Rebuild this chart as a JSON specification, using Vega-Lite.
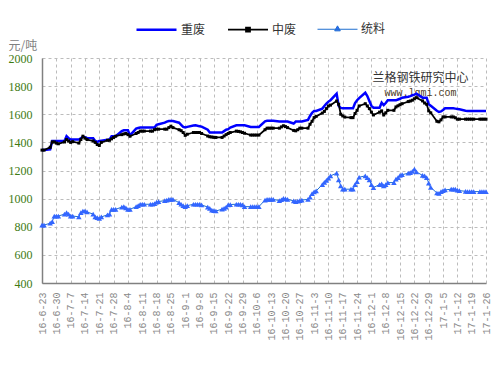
{
  "$schema": "https://vega.github.io/schema/vega-lite/v6.json",
  "width": 444,
  "height": 225,
  "autosize": {"type": "none"},
  "padding": {"left": 42, "top": 58, "right": 13, "bottom": 88},
  "background": "white",
  "config": {"view": {"stroke": null}, "font": "Liberation Sans"},
  "datasets": {
    "prices": [
      {"date":"2016-06-23","重废":1345,"中废":1345,"统料":812},
      {"date":"2016-06-24","重废":1345,"中废":1345,"统料":812},
      {"date":"2016-06-27","重废":1350,"中废":1365,"统料":825},
      {"date":"2016-06-28","重废":1410,"中废":1403,"统料":836},
      {"date":"2016-06-29","重废":1410,"中废":1403,"统料":876},
      {"date":"2016-06-30","重废":1410,"中废":1395,"统料":876},
      {"date":"2016-07-01","重废":1410,"中废":1390,"统料":876},
      {"date":"2016-07-04","重废":1410,"中废":1403,"统料":890},
      {"date":"2016-07-05","重废":1444,"中废":1420,"统料":900},
      {"date":"2016-07-06","重废":1430,"中废":1410,"统料":890},
      {"date":"2016-07-07","重废":1420,"中废":1400,"统料":876},
      {"date":"2016-07-08","重废":1420,"中废":1405,"统料":876},
      {"date":"2016-07-11","重废":1420,"中废":1395,"统料":871},
      {"date":"2016-07-12","重废":1430,"中废":1420,"统料":900},
      {"date":"2016-07-13","重废":1440,"中废":1444,"统料":912},
      {"date":"2016-07-14","重废":1436,"中废":1430,"统料":912},
      {"date":"2016-07-15","重废":1432,"中废":1420,"统料":905},
      {"date":"2016-07-18","重废":1430,"中废":1410,"统料":890},
      {"date":"2016-07-19","重废":1410,"中废":1400,"统料":871},
      {"date":"2016-07-20","重废":1403,"中废":1385,"统料":865},
      {"date":"2016-07-21","重废":1410,"中废":1378,"统料":860},
      {"date":"2016-07-22","重废":1412,"中废":1400,"统料":870},
      {"date":"2016-07-25","重废":1418,"中废":1415,"统料":885},
      {"date":"2016-07-26","重废":1420,"中废":1415,"统料":890},
      {"date":"2016-07-27","重废":1444,"中废":1425,"统料":924},
      {"date":"2016-07-28","重废":1444,"中废":1435,"统料":924},
      {"date":"2016-07-29","重废":1444,"中废":1444,"统料":924},
      {"date":"2016-08-01","重废":1480,"中废":1455,"统料":940},
      {"date":"2016-08-02","重废":1486,"中废":1460,"统料":943},
      {"date":"2016-08-03","重废":1486,"中废":1463,"统料":935},
      {"date":"2016-08-04","重废":1486,"中废":1455,"统料":924},
      {"date":"2016-08-05","重废":1450,"中废":1444,"统料":924},
      {"date":"2016-08-08","重废":1498,"中废":1463,"统料":943},
      {"date":"2016-08-09","重废":1502,"中废":1470,"统料":950},
      {"date":"2016-08-10","重废":1506,"中废":1480,"统料":960},
      {"date":"2016-08-11","重废":1506,"中废":1480,"统料":960},
      {"date":"2016-08-12","重废":1506,"中废":1480,"统料":960},
      {"date":"2016-08-15","重废":1506,"中废":1480,"统料":960},
      {"date":"2016-08-16","重废":1506,"中废":1480,"统料":960},
      {"date":"2016-08-17","重废":1506,"中废":1490,"统料":965},
      {"date":"2016-08-18","重废":1525,"中废":1494,"统料":975},
      {"date":"2016-08-19","重废":1529,"中废":1494,"统料":979},
      {"date":"2016-08-22","重废":1540,"中废":1494,"统料":986},
      {"date":"2016-08-23","重废":1548,"中废":1494,"统料":990},
      {"date":"2016-08-24","重废":1552,"中废":1505,"统料":995},
      {"date":"2016-08-25","重废":1552,"中废":1515,"统料":995},
      {"date":"2016-08-26","重废":1552,"中废":1505,"统料":995},
      {"date":"2016-08-29","重废":1540,"中废":1490,"统料":971},
      {"date":"2016-08-30","重废":1525,"中废":1483,"统料":960},
      {"date":"2016-08-31","重废":1510,"中废":1470,"统料":950},
      {"date":"2016-09-01","重废":1506,"中废":1450,"统料":943},
      {"date":"2016-09-02","重废":1510,"中废":1458,"统料":950},
      {"date":"2016-09-05","重废":1520,"中废":1470,"统料":960},
      {"date":"2016-09-06","重废":1522,"中废":1470,"统料":960},
      {"date":"2016-09-07","重废":1518,"中废":1470,"统料":960},
      {"date":"2016-09-08","重废":1515,"中废":1470,"统料":960},
      {"date":"2016-09-09","重废":1512,"中废":1463,"统料":955},
      {"date":"2016-09-12","重废":1490,"中废":1445,"统料":940},
      {"date":"2016-09-13","重废":1470,"中废":1440,"统料":930},
      {"date":"2016-09-14","重废":1470,"中废":1438,"统料":919},
      {"date":"2016-09-15","重废":1470,"中废":1436,"统料":915},
      {"date":"2016-09-16","重废":1470,"中废":1435,"统料":912},
      {"date":"2016-09-19","重废":1470,"中废":1435,"统料":925},
      {"date":"2016-09-20","重废":1480,"中废":1445,"统料":931},
      {"date":"2016-09-21","重废":1490,"中废":1455,"统料":940},
      {"date":"2016-09-22","重废":1494,"中废":1463,"统料":955},
      {"date":"2016-09-23","重废":1505,"中废":1470,"统料":958},
      {"date":"2016-09-26","重废":1522,"中废":1480,"统料":960},
      {"date":"2016-09-27","重废":1522,"中废":1478,"统料":960},
      {"date":"2016-09-28","重废":1522,"中废":1475,"统料":960},
      {"date":"2016-09-29","重废":1522,"中废":1470,"统料":955},
      {"date":"2016-09-30","重废":1522,"中废":1465,"统料":943},
      {"date":"2016-10-03","重废":1510,"中废":1452,"统料":943},
      {"date":"2016-10-04","重废":1510,"中废":1452,"统料":943},
      {"date":"2016-10-05","重废":1510,"中废":1452,"统料":943},
      {"date":"2016-10-06","重废":1510,"中废":1452,"统料":943},
      {"date":"2016-10-07","重废":1510,"中废":1452,"统料":943},
      {"date":"2016-10-10","重废":1550,"中废":1490,"统料":990},
      {"date":"2016-10-11","重废":1553,"中废":1501,"统料":995},
      {"date":"2016-10-12","重废":1553,"中废":1501,"统料":995},
      {"date":"2016-10-13","重废":1553,"中废":1501,"统料":995},
      {"date":"2016-10-14","重废":1553,"中废":1501,"统料":995},
      {"date":"2016-10-17","重废":1548,"中废":1501,"统料":986},
      {"date":"2016-10-18","重废":1548,"中废":1510,"统料":992},
      {"date":"2016-10-19","重废":1548,"中废":1518,"统料":1002},
      {"date":"2016-10-20","重废":1548,"中废":1512,"统料":998},
      {"date":"2016-10-21","重废":1548,"中废":1505,"统料":995},
      {"date":"2016-10-24","重废":1534,"中废":1485,"统料":984},
      {"date":"2016-10-25","重废":1548,"中废":1482,"统料":979},
      {"date":"2016-10-26","重废":1548,"中废":1490,"统料":982},
      {"date":"2016-10-27","重废":1548,"中废":1501,"统料":986},
      {"date":"2016-10-28","重废":1548,"中废":1501,"统料":990},
      {"date":"2016-10-31","重废":1560,"中废":1501,"统料":995},
      {"date":"2016-11-01","重废":1588,"中废":1529,"统料":1010},
      {"date":"2016-11-02","重废":1610,"中废":1550,"统料":1035},
      {"date":"2016-11-03","重废":1624,"中废":1576,"统料":1048},
      {"date":"2016-11-04","重废":1624,"中废":1585,"统料":1055},
      {"date":"2016-11-07","重废":1640,"中废":1608,"统料":1100},
      {"date":"2016-11-08","重废":1659,"中废":1620,"统料":1115},
      {"date":"2016-11-09","重废":1675,"中废":1640,"统料":1130},
      {"date":"2016-11-10","重废":1690,"中废":1659,"统料":1145},
      {"date":"2016-11-11","重废":1700,"中废":1665,"统料":1162},
      {"date":"2016-11-14","重废":1746,"中废":1694,"统料":1181},
      {"date":"2016-11-15","重废":1659,"中废":1671,"统料":1133},
      {"date":"2016-11-16","重废":1645,"中废":1600,"统料":1090},
      {"date":"2016-11-17","重废":1642,"中废":1588,"统料":1067},
      {"date":"2016-11-18","重废":1642,"中废":1580,"统料":1067},
      {"date":"2016-11-21","重废":1642,"中废":1576,"统料":1067},
      {"date":"2016-11-22","重废":1642,"中废":1576,"统料":1067},
      {"date":"2016-11-23","重废":1680,"中废":1605,"统料":1100},
      {"date":"2016-11-24","重废":1700,"中废":1628,"统料":1121},
      {"date":"2016-11-25","重废":1715,"中废":1659,"统料":1152},
      {"date":"2016-11-28","重废":1753,"中废":1675,"统料":1162},
      {"date":"2016-11-29","重废":1730,"中废":1659,"统料":1150},
      {"date":"2016-11-30","重废":1694,"中废":1640,"统料":1133},
      {"date":"2016-12-01","重废":1660,"中废":1615,"统料":1100},
      {"date":"2016-12-02","重废":1647,"中废":1595,"统料":1079},
      {"date":"2016-12-05","重废":1647,"中废":1615,"统料":1100},
      {"date":"2016-12-06","重废":1682,"中废":1624,"统料":1105},
      {"date":"2016-12-07","重废":1665,"中废":1595,"统料":1090},
      {"date":"2016-12-08","重废":1680,"中废":1610,"统料":1100},
      {"date":"2016-12-09","重废":1699,"中废":1628,"统料":1114},
      {"date":"2016-12-12","重废":1699,"中废":1628,"统料":1114},
      {"date":"2016-12-13","重废":1699,"中废":1652,"统料":1138},
      {"date":"2016-12-14","重废":1705,"中废":1660,"统料":1150},
      {"date":"2016-12-15","重废":1710,"中废":1668,"统料":1165},
      {"date":"2016-12-16","重废":1718,"中废":1675,"统料":1170},
      {"date":"2016-12-19","重废":1725,"中废":1690,"统料":1181},
      {"date":"2016-12-20","重废":1729,"中废":1694,"统料":1185},
      {"date":"2016-12-21","重废":1735,"中废":1700,"统料":1193},
      {"date":"2016-12-22","重废":1740,"中废":1710,"统料":1210},
      {"date":"2016-12-23","重废":1746,"中废":1718,"统料":1190},
      {"date":"2016-12-26","重废":1718,"中废":1695,"统料":1165},
      {"date":"2016-12-27","重废":1718,"中废":1680,"统料":1162},
      {"date":"2016-12-28","重废":1718,"中废":1671,"统料":1150},
      {"date":"2016-12-29","重废":1671,"中废":1624,"统料":1110},
      {"date":"2016-12-30","重废":1660,"中废":1610,"统料":1080},
      {"date":"2017-01-02","重废":1625,"中废":1550,"统料":1040},
      {"date":"2017-01-03","重废":1616,"中废":1546,"统料":1038},
      {"date":"2017-01-04","重废":1620,"中废":1560,"统料":1050},
      {"date":"2017-01-05","重废":1630,"中废":1581,"统料":1057},
      {"date":"2017-01-06","重废":1642,"中废":1581,"统料":1062},
      {"date":"2017-01-09","重废":1642,"中废":1581,"统料":1067},
      {"date":"2017-01-10","重废":1642,"中废":1581,"统料":1067},
      {"date":"2017-01-11","重废":1640,"中废":1575,"统料":1067},
      {"date":"2017-01-12","重废":1638,"中废":1565,"统料":1060},
      {"date":"2017-01-13","重废":1635,"中废":1565,"统料":1057},
      {"date":"2017-01-16","重废":1625,"中废":1565,"统料":1052},
      {"date":"2017-01-17","重废":1624,"中废":1565,"统料":1050},
      {"date":"2017-01-18","重废":1624,"中废":1565,"统料":1050},
      {"date":"2017-01-19","重废":1624,"中废":1565,"统料":1050},
      {"date":"2017-01-20","重废":1624,"中废":1565,"统料":1050},
      {"date":"2017-01-23","重废":1624,"中废":1565,"统料":1050},
      {"date":"2017-01-24","重废":1624,"中废":1565,"统料":1050},
      {"date":"2017-01-25","重废":1624,"中废":1565,"统料":1050},
      {"date":"2017-01-26","重废":1624,"中废":1565,"统料":1050}
    ]
  },
  "layer": [
    {
      "data": {"values": [{}]},
      "mark": {"type": "text", "font": "Noto Sans CJK SC", "fontSize": 12, "color": "#333333", "align": "center", "baseline": "middle"},
      "encoding": {
        "x": {"datum": {"year": 2016, "month": 12, "date": 25, "utc": true}, "type": "temporal"},
        "y": {"datum": 1855, "type": "quantitative"},
        "text": {"value": "兰格钢铁研究中心"}
      }
    },
    {
      "data": {"values": [{}]},
      "mark": {"type": "text", "font": "Liberation Mono", "fontSize": 10, "color": "#4d3b1f", "align": "center", "baseline": "middle"},
      "encoding": {
        "x": {"datum": {"year": 2016, "month": 12, "date": 25, "utc": true}, "type": "temporal"},
        "y": {"datum": 1748, "type": "quantitative"},
        "text": {"value": "www.lgmi.com"}
      }
    },
    {
      "data": {"name": "prices"},
      "transform": [{"fold": ["重废", "中废", "统料"], "as": ["series", "price"]}],
      "mark": {"type": "line"},
      "encoding": {
        "x": {
          "field": "date", "type": "temporal",
          "scale": {"type": "utc", "domain": [{"year": 2016, "month": 6, "date": 23, "utc": true}, {"year": 2017, "month": 1, "date": 26, "utc": true}]},
          "axis": {
            "title": null,
            "tickCount": 100,
            "values": [
              {"year": 2016, "month": 6, "date": 23, "utc": true},
              {"year": 2016, "month": 6, "date": 30, "utc": true},
              {"year": 2016, "month": 7, "date": 7, "utc": true},
              {"year": 2016, "month": 7, "date": 14, "utc": true},
              {"year": 2016, "month": 7, "date": 21, "utc": true},
              {"year": 2016, "month": 7, "date": 28, "utc": true},
              {"year": 2016, "month": 8, "date": 4, "utc": true},
              {"year": 2016, "month": 8, "date": 11, "utc": true},
              {"year": 2016, "month": 8, "date": 18, "utc": true},
              {"year": 2016, "month": 8, "date": 25, "utc": true},
              {"year": 2016, "month": 9, "date": 1, "utc": true},
              {"year": 2016, "month": 9, "date": 8, "utc": true},
              {"year": 2016, "month": 9, "date": 15, "utc": true},
              {"year": 2016, "month": 9, "date": 22, "utc": true},
              {"year": 2016, "month": 9, "date": 29, "utc": true},
              {"year": 2016, "month": 10, "date": 6, "utc": true},
              {"year": 2016, "month": 10, "date": 13, "utc": true},
              {"year": 2016, "month": 10, "date": 20, "utc": true},
              {"year": 2016, "month": 10, "date": 27, "utc": true},
              {"year": 2016, "month": 11, "date": 3, "utc": true},
              {"year": 2016, "month": 11, "date": 10, "utc": true},
              {"year": 2016, "month": 11, "date": 17, "utc": true},
              {"year": 2016, "month": 11, "date": 24, "utc": true},
              {"year": 2016, "month": 12, "date": 1, "utc": true},
              {"year": 2016, "month": 12, "date": 8, "utc": true},
              {"year": 2016, "month": 12, "date": 15, "utc": true},
              {"year": 2016, "month": 12, "date": 22, "utc": true},
              {"year": 2016, "month": 12, "date": 29, "utc": true},
              {"year": 2017, "month": 1, "date": 5, "utc": true},
              {"year": 2017, "month": 1, "date": 12, "utc": true},
              {"year": 2017, "month": 1, "date": 19, "utc": true},
              {"year": 2017, "month": 1, "date": 26, "utc": true}
            ],
            "labelExpr": "utcFormat(datum.value, '%y-%-m-%-d')",
            "labelAngle": 270,
            "labelFont": "Liberation Mono",
            "labelFontSize": 10,
            "labelColor": "#8a8a8a",
            "labelPadding": 9,
            "labelOverlap": false,
            "labelFlush": false,
            "ticks": false,
            "domainColor": "#808080",
            "domainWidth": 1.5,
            "grid": true,
            "gridColor": "#bcbcbc",
            "gridDash": [3, 3]
          }
        },
        "y": {
          "field": "price", "type": "quantitative",
          "scale": {"domain": [400, 2000], "nice": false, "zero": false},
          "axis": {
            "title": "元/吨",
            "titleAngle": 0,
            "titleAlign": "left",
            "titleBaseline": "alphabetic",
            "titleX": -34,
            "titleY": -9,
            "titleFont": "Noto Sans CJK SC",
            "titleFontSize": 12,
            "titleFontWeight": "normal",
            "titleColor": "#808080",
            "tickCount": 20,
            "values": [400, 600, 800, 1000, 1200, 1400, 1600, 1800, 2000],
            "format": "d",
            "labelFont": "Liberation Serif",
            "labelFontSize": 12,
            "labelColor": "#3d7a12",
            "labelPadding": 10,
            "labelFlush": false,
            "labelOverlap": false,
            "ticks": false,
            "domainColor": "#808080",
            "domainWidth": 1.5,
            "grid": true,
            "gridColor": "#bcbcbc",
            "gridDash": [3, 3]
          }
        },
        "color": {
          "field": "series", "type": "nominal",
          "scale": {"domain": ["重废", "中废", "统料"], "range": ["#0000ff", "#000000", "#1f6fd0"]},
          "legend": {
            "title": null,
            "orient": "none",
            "direction": "horizontal",
            "legendX": 93,
            "legendY": -50,
            "symbolSize": 1600,
            "labelFont": "Noto Sans CJK SC",
            "labelFontSize": 12,
            "labelColor": "#333333",
            "labelOffset": 3,
            "columnPadding": 18,
            "encode": {
              "symbols": {
                "update": {
                  "shape": {"signal": "datum.value === '重废' ? 'M-1,0H1' : (datum.value === '中废' ? 'M-1,0H1M-0.1,-0.1H0.1V0.1H-0.1Z' : 'M-1,0H1M0,-0.17L0.14,0.08H-0.14Z')"},
                  "fill": {"signal": "datum.value === '中废' ? '#000000' : (datum.value === '统料' ? '#3366ff' : 'transparent')"},
                  "strokeWidth": {"signal": "datum.value === '重废' ? 3 : 1.5"}
                }
              }
            }
          }
        },
        "strokeWidth": {
          "field": "series", "type": "nominal",
          "scale": {"domain": ["重废", "中废", "统料"], "range": [2.5, 1, 1.2]},
          "legend": null
        }
      }
    },
    {
      "data": {"name": "prices"},
      "transform": [
        {"fold": ["中废", "统料"], "as": ["series", "price"]}
      ],
      "mark": {"type": "point", "filled": true, "opacity": 1},
      "encoding": {
        "x": {"field": "date", "type": "temporal"},
        "y": {"field": "price", "type": "quantitative"},
        "shape": {"condition": {"test": "datum.series === '中废'", "value": "square"}, "value": "triangle-up"},
        "color": {"condition": {"test": "datum.series === '中废'", "value": "#000000"}, "value": "#3366ff"},
        "size": {"condition": {"test": "datum.series === '中废'", "value": 9}, "value": 30}
      }
    }
  ]
}
